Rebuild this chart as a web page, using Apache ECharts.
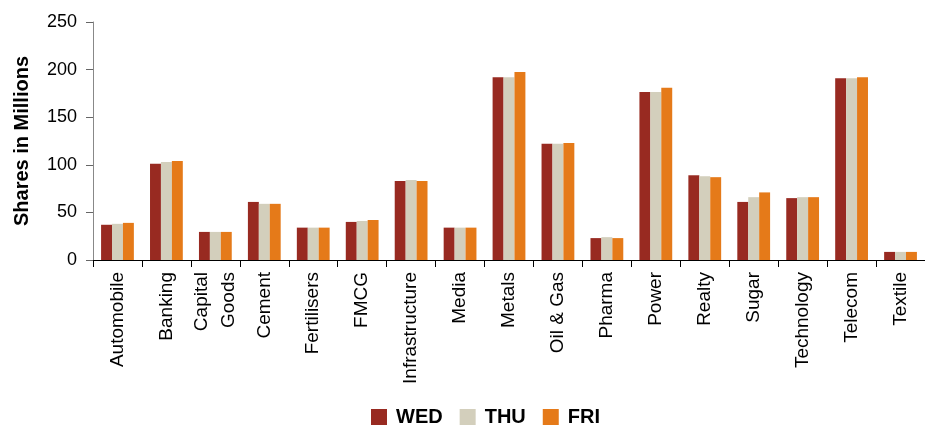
<!DOCTYPE html>
<html>
<head>
<meta charset="utf-8">
<script src="https://cdn.jsdelivr.net/npm/echarts@6/dist/echarts.min.js"></script>
<style>
  html, body { margin: 0; padding: 0; background: #fff; }
  #chart { width: 925px; height: 431px; }
</style>
</head>
<body>
<div id="chart"></div>
<script>
const sectors = ['Automobile', 'Banking', 'Capital\nGoods', 'Cement', 'Fertilisers', 'FMCG',
  'Infrastructure', 'Media', 'Metals', 'Oil & Gas', 'Pharma', 'Power', 'Realty', 'Sugar',
  'Technology', 'Telecom', 'Textile'];
const wed = [37, 101, 29.5, 61, 34, 40, 83, 34, 192, 122, 23, 176.5, 89, 61, 65, 191, 8.5];
const thu = [38, 103, 29.5, 59, 34, 41, 84, 34, 192, 122, 24, 176.5, 88, 66, 66, 191, 8.5];
const fri = [39, 104, 29.5, 59, 34, 42, 83, 34, 197.5, 123, 23, 181, 87, 71, 66, 192, 8.5];

const font = "'Liberation Sans', Arial, sans-serif";

const chart = echarts.init(document.getElementById('chart'));

const option = {
  animation: false,
  grid: {
    left: 93,
    right: -4,
    top: 22,
    bottom: 171,
  },
  legend: {
    top: 402,
    left: 366,
    icon: 'rect',
    itemWidth: 16,
    itemHeight: 16,
    itemGap: 17,
    textStyle: {
      fontFamily: font,
      fontWeight: 'bold',
      fontSize: 20,
      color: '#000',
      padding: [0, 0, 0, 4],
    },
    data: ['WED', 'THU', 'FRI'],
  },
  xAxis: {
    type: 'category',
    data: sectors,
    axisLine: { lineStyle: { color: '#000', width: 1 } },
    axisTick: { show: true, length: 7, lineStyle: { color: '#000' } },
    axisLabel: {
      interval: 0,
      rotate: 90,
      margin: 12,
      color: '#000',
      fontFamily: font,
      fontSize: 19,
      lineHeight: 27,
    },
  },
  yAxis: {
    type: 'value',
    min: 0,
    max: 250,
    interval: 50,
    name: 'Shares in Millions',
    nameLocation: 'middle',
    nameGap: 61,
    nameTextStyle: {
      fontFamily: font,
      fontWeight: 'bold',
      fontSize: 20,
      color: '#000',
    },
    splitLine: { show: false },
    axisLine: { show: true, lineStyle: { color: '#888' } },
    axisTick: { show: true, length: 7, lineStyle: { color: '#666' } },
    axisLabel: {
      margin: 16,
      color: '#000',
      fontFamily: font,
      fontSize: 18,
    },
  },
  series: [
    {
      name: 'WED',
      type: 'bar',
      data: wed,
      barGap: '0%',
      barCategoryGap: '33%',
      itemStyle: { color: '#982A21' },
    },
    {
      name: 'THU',
      type: 'bar',
      data: thu,
      itemStyle: { color: '#D3CFBC' },
    },
    {
      name: 'FRI',
      type: 'bar',
      data: fri,
      itemStyle: { color: '#E57A19' },
    },
  ],
};

chart.setOption(option);
</script>
</body>
</html>
